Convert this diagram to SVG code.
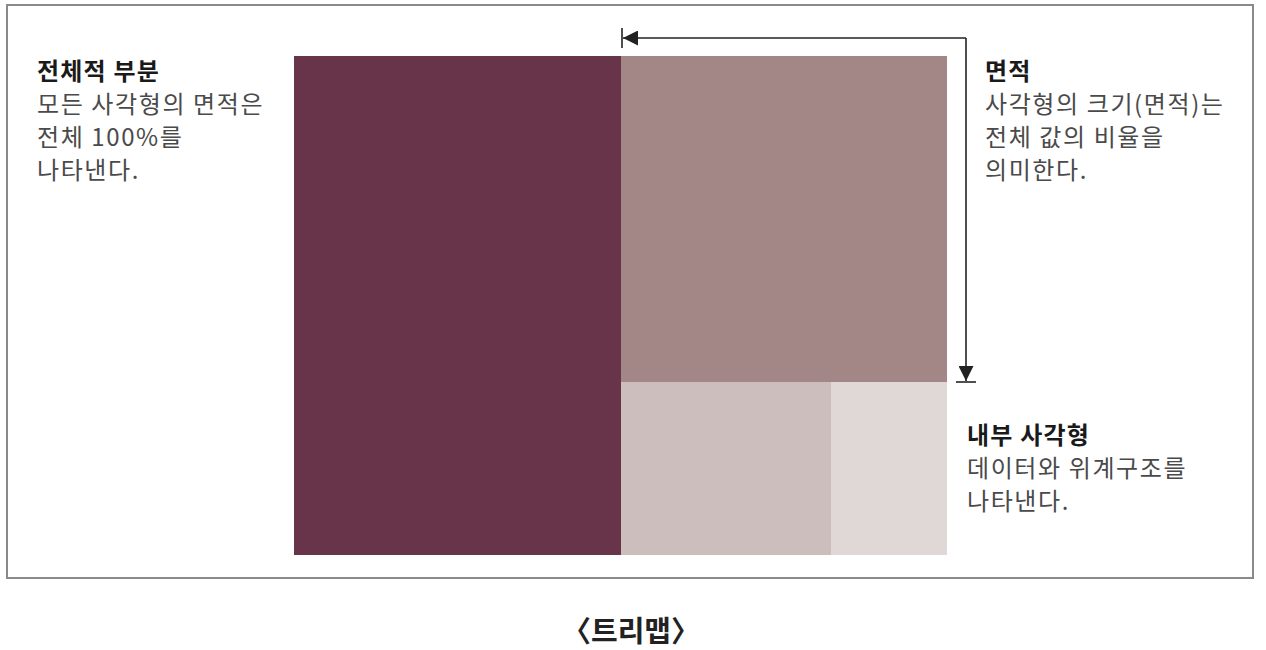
<svg xmlns="http://www.w3.org/2000/svg" width="1266" height="650" viewBox="0 0 1266 650">
<defs>
<style>
.t{font-family:"Noto Sans CJK KR","Noto Sans",sans-serif;font-size:24px;letter-spacing:1.6px;fill:#4a4a4a}
.b{font-weight:bold;fill:#1a1a1a;letter-spacing:1.2px}
.ln{stroke:#222;stroke-width:1.6;fill:none}
</style>
<marker id="ah" viewBox="0 0 10 10" refX="10" refY="5" markerWidth="20" markerHeight="15" markerUnits="userSpaceOnUse" orient="auto">
<path d="M0,0 L10,5 L0,10 Z" fill="#222"/>
</marker>
</defs>
<rect width="1266" height="650" fill="#fff"/>
<rect x="7" y="5" width="1246" height="573" fill="#fff" stroke="#8a8a8a" stroke-width="2"/>
<g id="rect-whole"><rect x="294" y="56" width="327" height="499" fill="#68344a"/></g>
<g id="rect-area"><rect x="621" y="56" width="326" height="326" fill="#a38787"/></g>
<g id="rect-inner1"><rect x="621" y="382" width="210" height="173" fill="#cbbebd"/></g>
<g id="rect-inner2"><rect x="831" y="382" width="116" height="173" fill="#e0d8d7"/></g>
<g id="connectors">
<path class="ln" d="M966,38 L623,38" marker-end="url(#ah)"/>
<path class="ln" d="M966,38 L966,381" marker-end="url(#ah)"/>
<path class="ln" d="M622,28 L622,48"/>
<path class="ln" d="M956,382 L976,382"/>
</g>
<g id="label-whole">
<text class="t b" x="37" y="80">전체적 부분</text>
<text class="t" x="37" y="113">모든 사각형의 면적은</text>
<text class="t" x="37" y="146">전체 100%를</text>
<text class="t" x="37" y="179">나타낸다.</text>
</g>
<g id="label-area">
<text class="t b" x="985" y="80">면적</text>
<text class="t" x="985" y="113">사각형의 크기(면적)는</text>
<text class="t" x="985" y="146">전체 값의 비율을</text>
<text class="t" x="985" y="179">의미한다.</text>
</g>
<g id="label-inner">
<text class="t b" x="967" y="444">내부 사각형</text>
<text class="t" x="967" y="477">데이터와 위계구조를</text>
<text class="t" x="967" y="510">나타낸다.</text>
</g>
<text x="631" y="642" text-anchor="middle" font-family="Noto Sans CJK KR, sans-serif" font-size="29" font-weight="bold" fill="#222">〈트리맵〉</text>
</svg>
